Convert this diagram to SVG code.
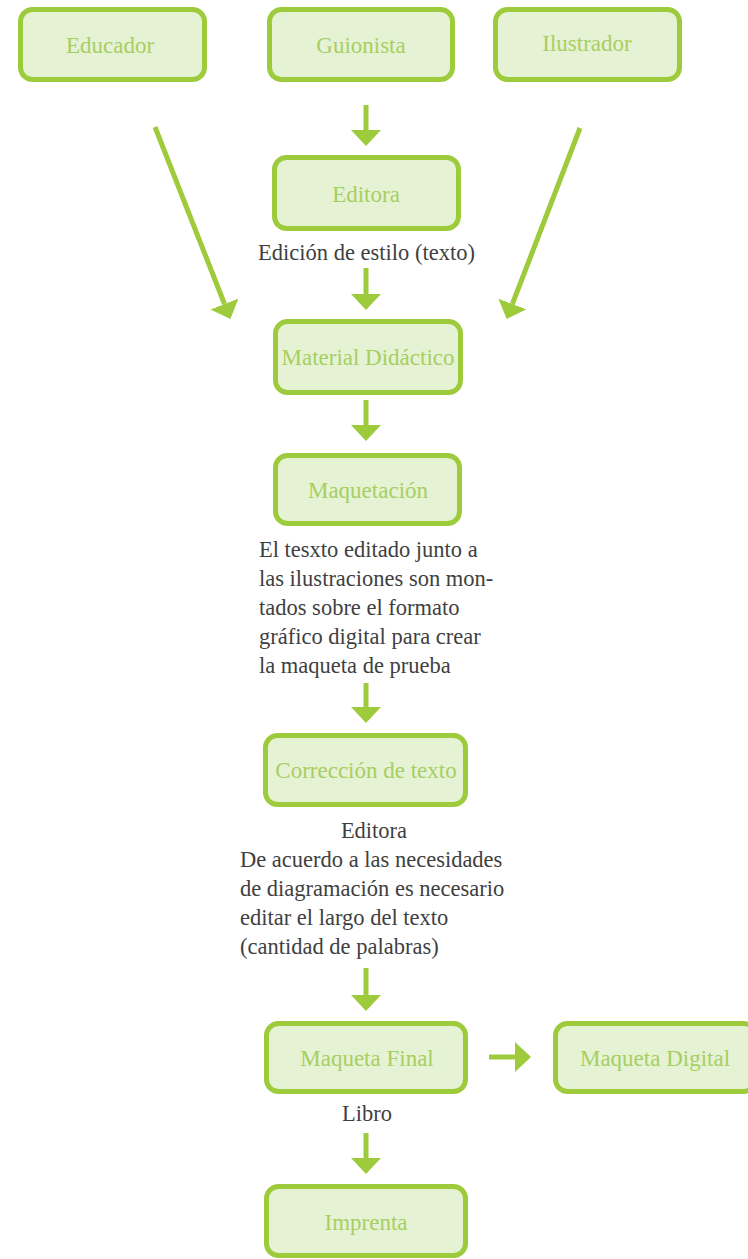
<svg xmlns="http://www.w3.org/2000/svg" width="748" height="1259" viewBox="0 0 748 1259">
<style>
.box{fill:#e6f2d4;stroke:#9dcb3b;stroke-width:5}
.lbl{font-family:"Liberation Serif",serif;font-size:23px;fill:#a6cf62;text-anchor:middle}
.txt{font-family:"Liberation Serif",serif;font-size:22.5px;fill:#3f3f3f}
.mid{text-anchor:middle}
.con{stroke:#9dcb3b;stroke-width:5;fill:none;marker-end:url(#ah)}
</style>
<defs>
<marker id="ah" markerUnits="userSpaceOnUse" markerWidth="16" markerHeight="30" viewBox="0 0 16 30" refX="0" refY="15" orient="auto">
<path d="M0,0 L16,15 L0,30 z" fill="#9dcb3b"/>
</marker>
</defs>
<rect width="748" height="1259" fill="#ffffff"/>
<g id="connectors">
<line class="con" x1="366" y1="105" x2="366" y2="130"/>
<line class="con" x1="155" y1="127" x2="224.5" y2="304"/>
<line class="con" x1="580" y1="128" x2="512.4" y2="304"/>
<line class="con" x1="366" y1="268" x2="366" y2="294"/>
<line class="con" x1="366" y1="400" x2="366" y2="425"/>
<line class="con" x1="366" y1="683" x2="366" y2="707"/>
<line class="con" x1="366" y1="968" x2="366" y2="995"/>
<line class="con" x1="489" y1="1057" x2="515" y2="1057"/>
<line class="con" x1="366" y1="1133" x2="366" y2="1158"/>
</g>
<g id="educador">
<rect class="box" x="20.5" y="9.5" width="184" height="70" rx="12"/>
<text class="lbl" x="110" y="53">Educador</text>
</g>
<g id="guionista">
<rect class="box" x="269.5" y="9.5" width="183" height="70" rx="12"/>
<text class="lbl" x="361" y="53">Guionista</text>
</g>
<g id="ilustrador">
<rect class="box" x="495.5" y="9.5" width="184" height="70" rx="12"/>
<text class="lbl" x="587" y="51">Ilustrador</text>
</g>
<g id="editora">
<rect class="box" x="274.5" y="157.5" width="184" height="71" rx="12"/>
<text class="lbl" x="366" y="202">Editora</text>
</g>
<g id="edicion-label">
<text class="txt mid" x="366.5" y="260">Edición de estilo (texto)</text>
</g>
<g id="material">
<rect class="box" x="275.5" y="321.5" width="185" height="71" rx="12"/>
<text class="lbl" x="368" y="365">Material Didáctico</text>
</g>
<g id="maquetacion">
<rect class="box" x="275.5" y="455.5" width="184" height="68" rx="12"/>
<text class="lbl" x="368" y="498">Maquetación</text>
</g>
<g id="maquetacion-text">
<text class="txt" x="259" y="557">El tesxto editado junto a</text>
<text class="txt" x="259" y="586">las ilustraciones son mon-</text>
<text class="txt" x="259" y="615">tados sobre el formato</text>
<text class="txt" x="259" y="644">gráfico digital para crear</text>
<text class="txt" x="259" y="673">la maqueta de prueba</text>
</g>
<g id="correccion">
<rect class="box" x="265.5" y="735.5" width="200" height="69" rx="12"/>
<text class="lbl" x="366" y="778">Corrección de texto</text>
</g>
<g id="correccion-text">
<text class="txt mid" x="374" y="838">Editora</text>
<text class="txt" x="240" y="867">De acuerdo a las necesidades</text>
<text class="txt" x="240" y="896">de diagramación es necesario</text>
<text class="txt" x="240" y="925">editar el largo del texto</text>
<text class="txt" x="240" y="954">(cantidad de palabras)</text>
</g>
<g id="maqueta-final">
<rect class="box" x="266.5" y="1023.5" width="199" height="68" rx="12"/>
<text class="lbl" x="367" y="1066">Maqueta Final</text>
</g>
<g id="maqueta-digital">
<rect class="box" x="555.5" y="1023.5" width="200" height="68" rx="12"/>
<text class="lbl" x="655" y="1066">Maqueta Digital</text>
</g>
<g id="libro-label">
<text class="txt mid" x="367" y="1121">Libro</text>
</g>
<g id="imprenta">
<rect class="box" x="266.5" y="1186.5" width="199" height="69" rx="12"/>
<text class="lbl" x="366" y="1230">Imprenta</text>
</g>
</svg>
